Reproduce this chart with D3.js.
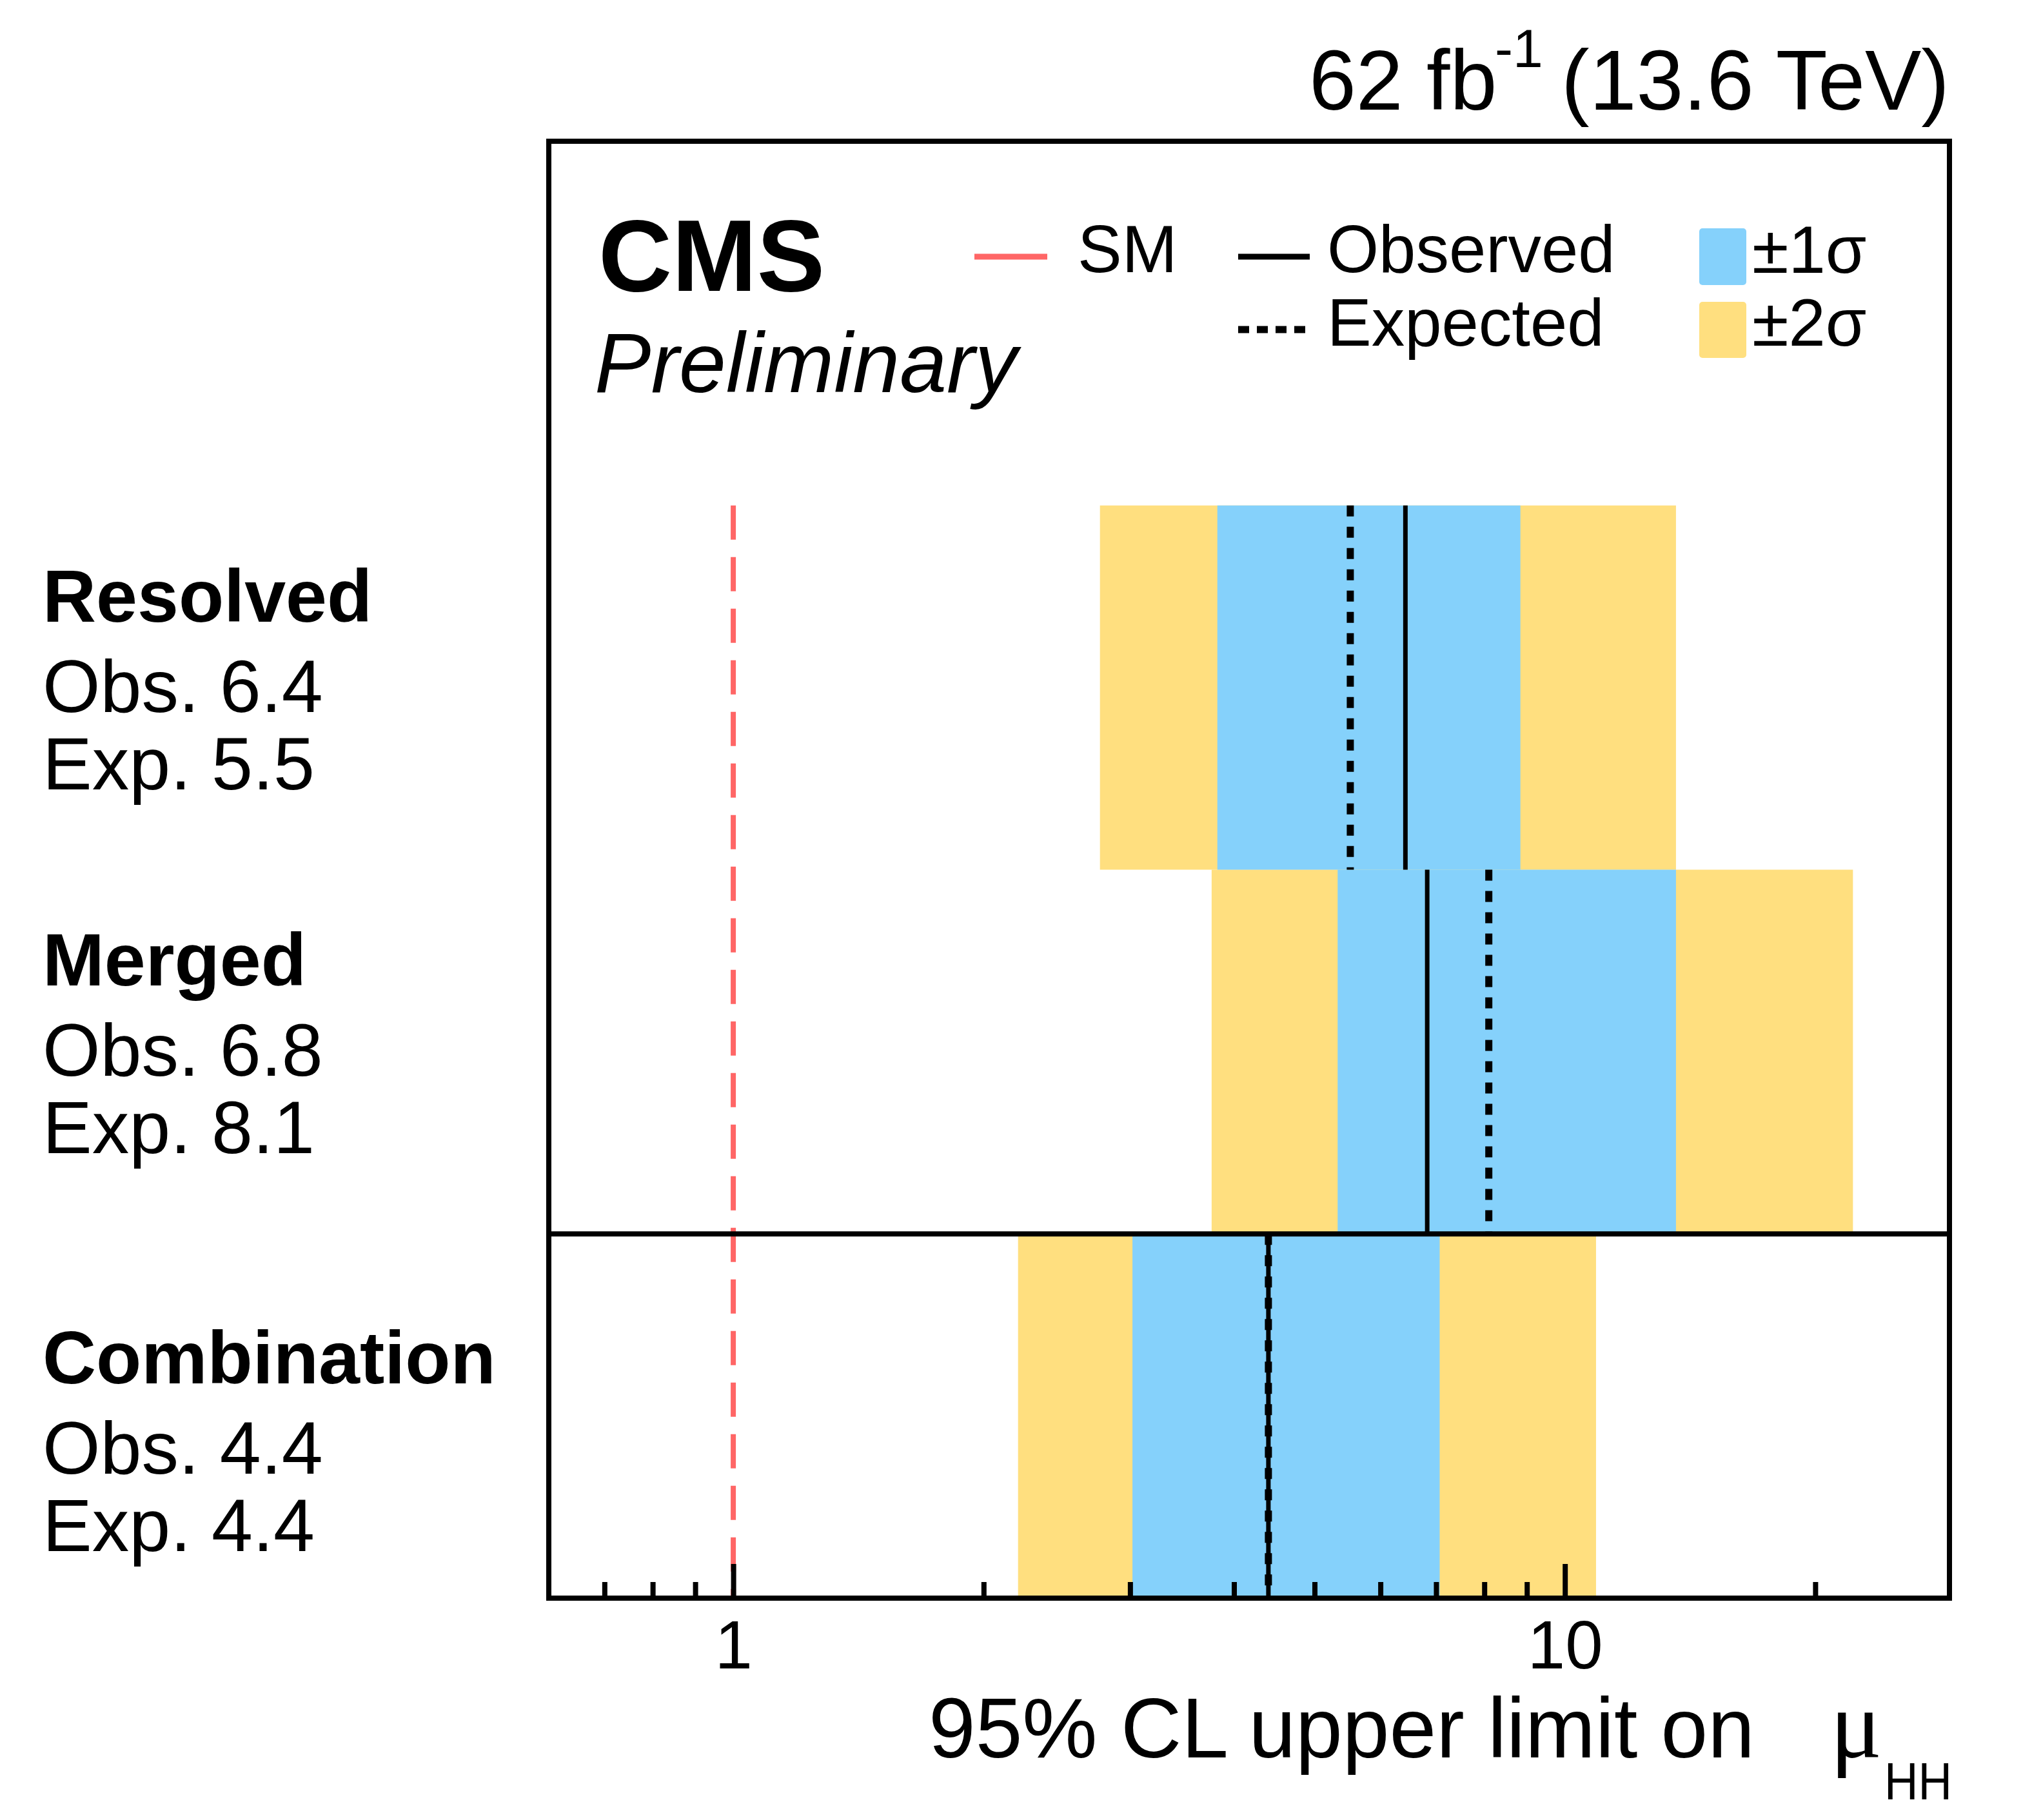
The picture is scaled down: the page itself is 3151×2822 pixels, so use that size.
<!DOCTYPE html>
<html>
<head>
<meta charset="utf-8">
<script src="https://cdn.jsdelivr.net/npm/d3@7"></script>
<style>
  body { margin: 0; background: #fff; }
  text { font-family: "Liberation Sans", Arial, Helvetica, sans-serif; fill: #000; }
</style>
</head>
<body>
<svg id="chart" width="3151" height="2822"></svg>
<script>
// data, bottom row first
const categories = ["Combination", "Merged", "Resolved"];
const observed = [4.40, 6.83, 6.43];
const expected = [4.40, 8.10, 5.52];
const band2Lo = [2.20, 3.76, 2.76];
const band1Lo = [3.02, 5.33, 3.82];
const band1Hi = [7.07, 13.6, 8.84];
const band2Hi = [10.9, 22.2, 13.6];
const smValue = 1;
const majorTicks = [1, 10];
const minorTicks = [0.7, 0.8, 0.9, 2, 3, 4, 5, 6, 7, 8, 9, 20];

const colBlue = "#85d1fb";
const colYellow = "#ffdf7f";
const colRed = "#ff6666";

const svg = d3.select("#chart");
svg.append("rect").attr("width", 3151).attr("height", 2822).attr("fill", "#fff");

const plotL = 851, plotR = 3023, plotT = 219, plotB = 2478;
const x = d3.scaleLog().domain([0.6, 29]).range([plotL, plotR]);
const y = d3.scaleLinear().domain([0, 4]).range([plotB, plotT]);

const rows = categories.map((name, i) => ({
  name, i,
  obs: observed[i], exp: expected[i],
  lo2: band2Lo[i], lo1: band1Lo[i], hi1: band1Hi[i], hi2: band2Hi[i]
}));

// bands
const g = svg.append("g");
g.selectAll("rect.b2").data(rows).join("rect").attr("class", "b2")
  .attr("x", d => x(d.lo2)).attr("width", d => x(d.hi2) - x(d.lo2))
  .attr("y", d => y(d.i + 1)).attr("height", d => y(d.i) - y(d.i + 1))
  .attr("fill", colYellow);
g.selectAll("rect.b1").data(rows).join("rect").attr("class", "b1")
  .attr("x", d => x(d.lo1)).attr("width", d => x(d.hi1) - x(d.lo1))
  .attr("y", d => y(d.i + 1)).attr("height", d => y(d.i) - y(d.i + 1))
  .attr("fill", colBlue);

// SM line
g.append("line")
  .attr("x1", x(smValue)).attr("x2", x(smValue))
  .attr("y1", y(categories.length)).attr("y2", y(0))
  .attr("stroke", colRed).attr("stroke-width", 8)
  .attr("stroke-dasharray", "53,27");

// expected + observed
g.selectAll("line.exp").data(rows).join("line").attr("class", "exp")
  .attr("x1", d => x(d.exp)).attr("x2", d => x(d.exp))
  .attr("y1", d => y(d.i + 1)).attr("y2", d => y(d.i))
  .attr("stroke", "#000").attr("stroke-width", 11)
  .attr("stroke-dasharray", "17,16");
g.selectAll("line.obs").data(rows).join("line").attr("class", "obs")
  .attr("x1", d => x(d.obs)).attr("x2", d => x(d.obs))
  .attr("y1", d => y(d.i + 1)).attr("y2", d => y(d.i))
  .attr("stroke", "#000").attr("stroke-width", 7);

// separator between combination and the channels
g.append("line")
  .attr("x1", plotL).attr("x2", plotR).attr("y1", y(1)).attr("y2", y(1))
  .attr("stroke", "#000").attr("stroke-width", 8);

// axis ticks (inside)
const axMajor = svg.append("g").attr("transform", `translate(0,${plotB})`)
  .call(d3.axisBottom(x).tickValues(majorTicks).tickSize(-53).tickPadding(34)
    .tickFormat(d3.format("d")));
const axMinor = svg.append("g").attr("transform", `translate(0,${plotB})`)
  .call(d3.axisBottom(x).tickValues(minorTicks).tickSize(-25).tickFormat(""));
[axMajor, axMinor].forEach(a => {
  a.select(".domain").remove();
  a.selectAll(".tick line").attr("stroke", "#000").attr("stroke-width", 8);
});
axMajor.selectAll(".tick text")
  .attr("font-size", 105).attr("fill", "#000")
  .style("font-family", '"Liberation Sans", Arial, Helvetica, sans-serif');

// frame
svg.append("rect")
  .attr("x", plotL).attr("y", plotT).attr("width", plotR - plotL).attr("height", plotB - plotT)
  .attr("fill", "none").attr("stroke", "#000").attr("stroke-width", 8);

// row labels
const labelOffset = [232, 179, 180];
const fmt = d3.format(".1f");
const lab = svg.append("g");
rows.forEach(d => {
  const y0 = y(d.i + 1) + labelOffset[d.i];
  lab.append("text").attr("x", 66).attr("y", y0)
    .attr("font-size", 115).attr("font-weight", "bold").text(d.name);
  lab.append("text").attr("x", 66).attr("y", y0 + 140)
    .attr("font-size", 115).text("Obs. " + fmt(d.obs));
  lab.append("text").attr("x", 66).attr("y", y0 + 260)
    .attr("font-size", 115).text("Exp. " + fmt(d.exp));
});

// CMS label
svg.append("text").attr("x", 928).attr("y", 451)
  .attr("font-size", 158).attr("font-weight", "bold").text("CMS");
svg.append("text").attr("x", 922).attr("y", 608)
  .attr("font-size", 131).attr("font-style", "italic").text("Preliminary");

// lumi label
svg.append("text").attr("x", 2030).attr("y", 170).attr("font-size", 131).text("62 fb");
svg.append("text").attr("x", 2318).attr("y", 104).attr("font-size", 84).text("-1");
svg.append("text").attr("x", 3023).attr("y", 170).attr("font-size", 131)
  .attr("text-anchor", "end").text("(13.6 TeV)");

// axis title
svg.append("text").attr("x", 1440).attr("y", 2725).attr("font-size", 132)
  .attr("textLength", 1281).attr("lengthAdjust", "spacingAndGlyphs")
  .text("95% CL upper limit on");
svg.append("text").attr("x", 2838).attr("y", 2725).attr("font-size", 150)
  .style("font-family", '"Liberation Serif", "DejaVu Serif", serif').text("μ");
svg.append("text").attr("x", 2922).attr("y", 2790).attr("font-size", 82)
  .attr("textLength", 105).attr("lengthAdjust", "spacingAndGlyphs").text("HH");

// legend
const leg = svg.append("g");
leg.append("line").attr("x1", 1511).attr("x2", 1624).attr("y1", 398).attr("y2", 398)
  .attr("stroke", colRed).attr("stroke-width", 9);
leg.append("text").attr("x", 1671).attr("y", 422).attr("font-size", 103).text("SM");
leg.append("line").attr("x1", 1920).attr("x2", 2031).attr("y1", 398).attr("y2", 398)
  .attr("stroke", "#000").attr("stroke-width", 9);
leg.append("text").attr("x", 2058).attr("y", 422).attr("font-size", 103).text("Observed");
leg.append("line").attr("x1", 1920).attr("x2", 2031).attr("y1", 511).attr("y2", 511)
  .attr("stroke", "#000").attr("stroke-width", 11).attr("stroke-dasharray", "17,12");
leg.append("text").attr("x", 2058).attr("y", 536).attr("font-size", 103).text("Expected");
leg.append("rect").attr("x", 2635).attr("y", 354).attr("width", 73).attr("height", 88)
  .attr("rx", 5).attr("fill", colBlue);
leg.append("text").attr("x", 2717).attr("y", 423).attr("font-size", 103).text("±1σ");
leg.append("rect").attr("x", 2635).attr("y", 468).attr("width", 73).attr("height", 87)
  .attr("rx", 5).attr("fill", colYellow);
leg.append("text").attr("x", 2717).attr("y", 536).attr("font-size", 103).text("±2σ");
</script>
</body>
</html>
